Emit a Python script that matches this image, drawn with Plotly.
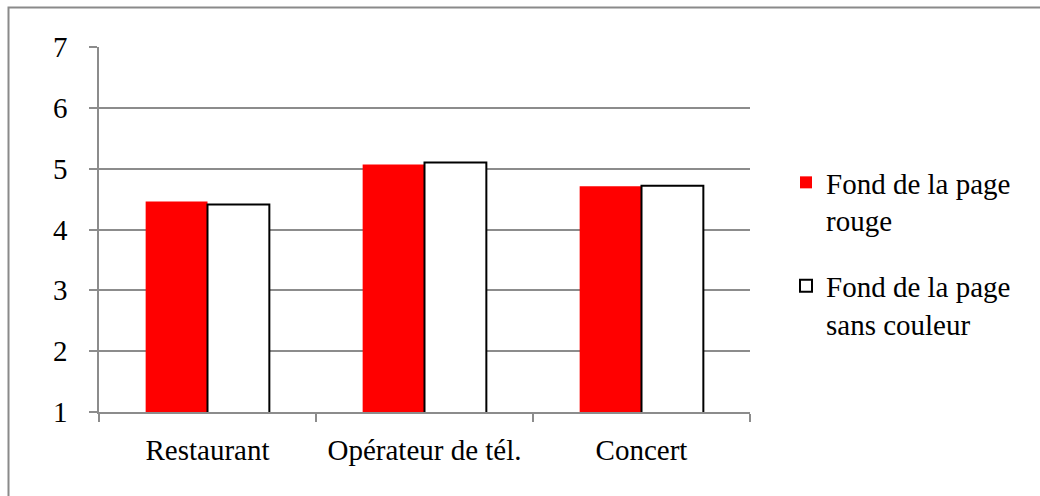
import plotly.graph_objects as go

# Category labels and mean scores for the two page backgrounds
categories = ["Restaurant", "Opérateur de tél.", "Concert"]
rouge = [4.46, 5.07, 4.71]
sans_couleur = [4.41, 5.10, 4.72]
series_names = ["Fond de la page<br>rouge", "Fond de la page<br>sans couleur"]
y_ticks = [1, 2, 3, 4, 5, 6, 7]

W, H = 1040, 496
L, R, T, B = 99, 290, 47, 84
plot_w = W - L - R
plot_h = H - T - B

font_family = "Liberation Serif"
font_size = 29
grid_col = "#8c8c8c"

fig = go.Figure()
fig.add_trace(go.Bar(
    x=categories, y=rouge, name=series_names[0], legendgroup="a",
    marker=dict(color="#ff0000", line=dict(width=0)),
    base=0,
))
fig.add_trace(go.Bar(
    x=categories, y=sans_couleur, name=series_names[1], legendgroup="b",
    marker=dict(color="#ffffff", line=dict(color="#000000", width=2)),
    base=0,
))


def px_to_paper_x(px):
    return (px - L) / plot_w


def px_to_paper_y(py):
    return (H - B - py) / plot_h


fig.update_layout(
    width=W, height=H,
    margin=dict(l=L, r=R, t=T, b=B, pad=0),
    paper_bgcolor="white", plot_bgcolor="white",
    font=dict(family=font_family, size=font_size, color="#000000"),
    barmode="group", bargap=0.43, bargroupgap=0,
    showlegend=True,
    legend=dict(
        x=px_to_paper_x(786), xanchor="left",
        y=px_to_paper_y(157), yanchor="top",
        valign="top", tracegroupgap=25, traceorder="grouped",
        font=dict(family=font_family, size=font_size, color="#000000"),
        bgcolor="rgba(0,0,0,0)", borderwidth=0,
    ),
    xaxis=dict(
        showgrid=False, showline=True, linecolor=grid_col, linewidth=1.5,
        ticks="outside", ticklen=8, tickcolor=grid_col, tickwidth=1.5,
        tickson="boundaries", ticklabelstandoff=11,
        tickfont=dict(family=font_family, size=font_size, color="#000000"),
    ),
    yaxis=dict(
        range=[1, 7], tickvals=y_ticks, ticktext=[str(v) for v in y_ticks],
        showgrid=True, gridcolor=grid_col, gridwidth=1.5,
        showline=True, linecolor=grid_col, linewidth=1.5,
        ticks="outside", ticklen=8, tickcolor=grid_col, tickwidth=1.5,
        ticklabelstandoff=16, zeroline=False,
        tickfont=dict(family=font_family, size=font_size, color="#000000"),
    ),
    shapes=[dict(
        type="rect", xref="paper", yref="paper",
        x0=px_to_paper_x(8.5), x1=px_to_paper_x(1100),
        y0=px_to_paper_y(560), y1=px_to_paper_y(7.5),
        line=dict(color="#8a8a8a", width=2), fillcolor="rgba(0,0,0,0)",
        layer="below",
    )],
)

fig.write_html("out.html")
